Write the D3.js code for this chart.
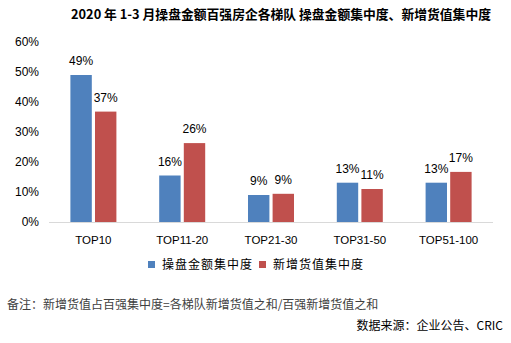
<!DOCTYPE html>
<html>
<head>
<meta charset="utf-8">
<script src="https://cdn.jsdelivr.net/npm/d3@7"></script>
<style>
  html, body { margin: 0; padding: 0; background: #fff; }
  svg { display: block; }
</style>
</head>
<body>
<div id="chart"></div>
<script>
var CATEGORIES = ['TOP10', 'TOP11-20', 'TOP21-30', 'TOP31-50', 'TOP51-100'];
var SERIES = ['操盘金额集中度', '新增货值集中度'];
var OPERATE = [0.49, 0.155, 0.09, 0.131, 0.131];
var NEWVALUE = [0.368, 0.263, 0.094, 0.11, 0.167];
var Y_TICKS = [0, 0.1, 0.2, 0.3, 0.4, 0.5, 0.6];
var TITLE = '2020 年 1-3 月操盘金额百强房企各梯队 操盘金额集中度、新增货值集中度';
var NOTE = '备注：新增货值占百强集中度=各梯队新增货值之和/百强新增货值之和';
var SOURCE = '数据来源：企业公告、CRIC';

var W = 511, H = 343;
var COLORS = ['#4F81BD', '#C0504D'];
var LATIN = '"Liberation Sans", Arial, sans-serif';
var CJK = '"Noto Sans CJK SC", sans-serif';

var svg = d3.select('#chart').append('svg').attr('width', W).attr('height', H);

// ---------- scales ----------
var m = { l: 49, r: 18, t: 42, b: 121 };
var x = d3.scaleBand().domain(CATEGORIES).range([m.l, W - m.r]);
var xs = d3.scaleBand().domain(SERIES).range([x.bandwidth() / 2 - 23, x.bandwidth() / 2 + 23]).paddingInner(0.13);
var y = d3.scaleLinear().domain([0, 0.6]).range([H - m.b, m.t]);

// ---------- title ----------
svg.append('text').attr('x', 281).attr('y', 19).attr('text-anchor', 'middle')
  .attr('font-family', CJK).attr('font-weight', 700).attr('font-size', 12.8).attr('fill', '#000').text(TITLE);

// ---------- axes ----------
svg.append('g').attr('transform', 'translate(' + (m.l - 10) + ',0)')
  .call(d3.axisLeft(y).tickValues(Y_TICKS).tickFormat(d3.format('.0%')).tickSize(0).tickPadding(0))
  .call(function (g) { g.select('.domain').remove(); })
  .call(function (g) { g.selectAll('text').attr('font-family', LATIN).attr('font-size', 12).attr('fill', '#000'); });

svg.append('line').attr('x1', m.l).attr('x2', W - m.r).attr('y1', y(0) + 0.5).attr('y2', y(0) + 0.5)
  .attr('stroke', '#d9d9d9').attr('stroke-width', 1);

svg.append('g').attr('transform', 'translate(0,' + y(0) + ')')
  .call(d3.axisBottom(x).tickSize(0).tickPadding(14))
  .call(function (g) { g.select('.domain').remove(); })
  .call(function (g) { g.selectAll('text').attr('font-family', LATIN).attr('font-size', 11.5).attr('fill', '#000'); });

// ---------- bars ----------
var rows = CATEGORIES.map(function (c, i) { return { cat: c, vals: [OPERATE[i], NEWVALUE[i]] }; });
var grp = svg.append('g').selectAll('g').data(rows).join('g')
  .attr('transform', function (d) { return 'translate(' + x(d.cat) + ',0)'; });
var cells = grp.selectAll('g').data(function (d) { return d.vals.map(function (v, k) { return { s: SERIES[k], k: k, v: v }; }); }).join('g');
cells.append('rect')
  .attr('x', function (d) { return xs(d.s); }).attr('width', xs.bandwidth())
  .attr('y', function (d) { return y(d.v); }).attr('height', function (d) { return y(0) - y(d.v); })
  .attr('fill', function (d) { return COLORS[d.k]; });
cells.append('text')
  .attr('x', function (d) { return xs(d.s) + xs.bandwidth() / 2; }).attr('y', function (d) { return y(d.v) - 10; })
  .attr('text-anchor', 'middle').attr('font-family', LATIN).attr('font-size', 12).attr('fill', '#000')
  .text(function (d) { return Math.round(d.v * 100) + '%'; });

// ---------- legend ----------
var legX = [148, 259];
var leg = svg.append('g').selectAll('g').data(SERIES).join('g')
  .attr('transform', function (d, i) { return 'translate(' + legX[i] + ',268)'; });
leg.append('rect').attr('x', 0).attr('y', -7).attr('width', 7).attr('height', 7)
  .attr('fill', function (d, i) { return COLORS[i]; });
leg.append('text').attr('x', 14).attr('y', 0).attr('dy', '0.1em').attr('font-family', CJK).attr('font-size', 12)
  .attr('letter-spacing', 1).attr('fill', '#000').text(function (d) { return d; });

// ---------- notes ----------
svg.append('text').attr('x', 7).attr('y', 309).attr('font-family', CJK).attr('font-size', 12)
  .attr('fill', '#404040').text(NOTE);
svg.append('text').attr('x', 503).attr('y', 330).attr('text-anchor', 'end').attr('font-family', CJK).attr('font-size', 12)
  .attr('fill', '#000').text(SOURCE);
</script>
</body>
</html>
